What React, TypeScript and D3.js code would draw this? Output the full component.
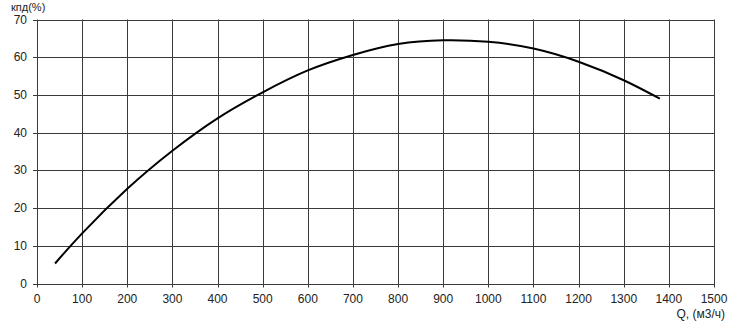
import React from "react";
import * as d3 from "d3";

const flowQ = [40, 100, 200, 300, 400, 500, 600, 700, 800, 900, 1000, 1100, 1200, 1300, 1380];
const efficiency = [5.3, 13.3, 25.1, 35.2, 43.8, 50.7, 56.5, 60.6, 63.5, 64.5, 64.1, 62.3, 58.8, 53.9, 49.0];
const xTicks = d3.range(0, 1501, 100);
const yTicks = d3.range(0, 71, 10);

const W = 746;
const H = 334;
const left = 37;
const right = 714;
const top = 19.5;
const bottom = 283.5;

export default function App() {
  const x = d3.scaleLinear().domain([0, 1500]).range([left, right]);
  const y = d3.scaleLinear().domain([0, 70]).range([bottom, top]);
  const line = d3
    .line<number>()
    .x((_, i) => x(flowQ[i]))
    .y((d) => y(d))
    .curve(d3.curveNatural);
  const font = "'Liberation Sans', Arial, sans-serif";
  const grid = "#3a3a3a";
  return (
    <svg
      width={W}
      height={H}
      style={{ position: "absolute", left: 0, top: 0, background: "#fff" }}
      fontFamily={font}
    >
      <rect x={0} y={0} width={W} height={H} fill="#fff" />
      {xTicks.map((t) => (
        <line
          key={"gx" + t}
          x1={Math.round(x(t)) + 0.5}
          x2={Math.round(x(t)) + 0.5}
          y1={y(70)}
          y2={y(0) + 4}
          stroke={grid}
          strokeWidth={1}
        />
      ))}
      {yTicks.map((t) => (
        <line
          key={"gy" + t}
          x1={x(0) - 4}
          x2={x(1500)}
          y1={Math.round(y(t)) + 0.5}
          y2={Math.round(y(t)) + 0.5}
          stroke={grid}
          strokeWidth={1}
        />
      ))}
      {xTicks.map((t) => (
        <text key={"lx" + t} x={x(t)} y={303} fontSize={12} textAnchor="middle" fill="#222">
          {t}
        </text>
      ))}
      {yTicks.map((t) => (
        <text key={"ly" + t} x={27} y={y(t) + 4} fontSize={12} textAnchor="end" fill="#222">
          {t}
        </text>
      ))}
      <text x={11} y={11} fontSize={11} fill="#222">
        кпд(%)
      </text>
      <text x={725} y={318} fontSize={12} textAnchor="end" fill="#222">
        Q, (м3/ч)
      </text>
      <path d={line(efficiency) || ""} fill="none" stroke="#000" strokeWidth={2} />
    </svg>
  );
}
